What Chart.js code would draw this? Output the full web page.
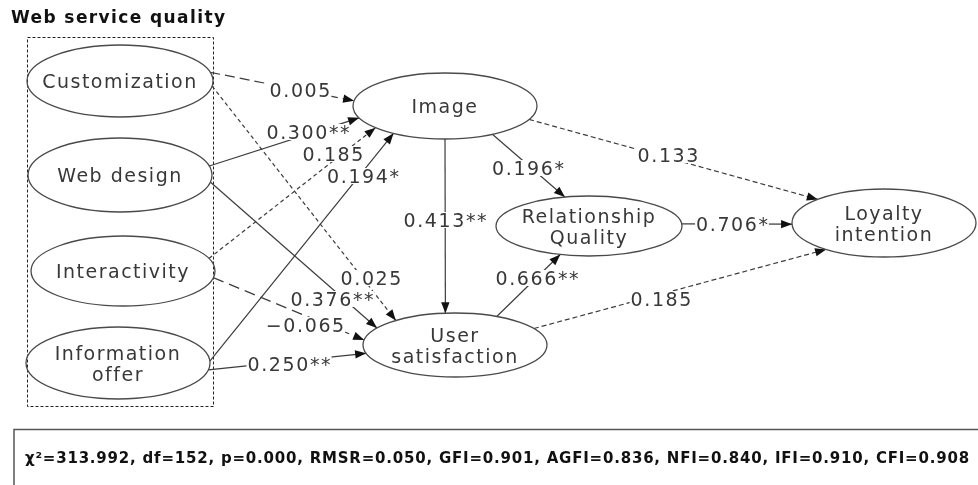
<!DOCTYPE html>
<html><head><meta charset="utf-8">
<script src="https://cdn.jsdelivr.net/npm/chart.js@4.4.1/dist/chart.umd.min.js"></script>
<style>html,body{margin:0;padding:0;background:#fff}#wrap{width:978px;height:485px;position:relative}</style>
</head><body><div id="wrap"><canvas id="c"></canvas></div>
<script>
// ---------- data ----------
const title = "Web service quality";
const nodeNames = ["Customization","Web design","Interactivity","Information offer","Image","Relationship Quality","Loyalty intention","User satisfaction"];
const nodeLines = [["Customization"],["Web design"],["Interactivity"],["Information","offer"],["Image"],["Relationship","Quality"],["Loyalty","intention"],["User","satisfaction"]];
const exogenous = [0,1,2,3];

// structural paths: from -> to, standardized coefficient, significance stars
const pathFrom  = [0,0,1,1,2,2,3,3,4,4,4,7,5,7];
const pathTo    = [4,7,4,7,4,7,4,7,7,5,6,5,6,6];
const pathCoef  = [0.005,0.025,0.300,0.376,0.185,-0.065,0.194,0.250,0.413,0.196,0.133,0.666,0.706,0.185];
const pathStars = ["","","**","**","","","*","**","**","*","","**","*",""];

// model fit indices
const fitNames    = ["χ²","df","p","RMSR","GFI","AGFI","NFI","IFI","CFI"];
const fitValues   = [313.992,152,0.000,0.050,0.901,0.836,0.840,0.910,0.908];
const fitDecimals = [3,0,3,3,3,3,3,3,3];

// ---------- layout (diagram coordinates) ----------
const nodeX  = [120,120,123,118,445,589,884,455];
const nodeY  = [81,175,271,363,106,226,223,345];
const nodeRX = [93,92,92,92,92,93,92,92];
const nodeRY = [36,37,35,36,33,30,34,32];
const startAngle = [-14,8,-14,11,-21,11,-3,11,90,59,24,-63,-4,-31];
const endAngle   = [189,230,159,212,139,189,124,165,-96,-105,-136,108,178,129];
const labelX = [300,371,308,332,333,305,363,289,445,528,668,537,732,661];
const labelY = [90,278,132,299,154,325,176,364,220,168,155,278,224,299];
const pathDash = [[10,5],[4,3],[],[],[4,3],[11,6],[],[],[],[],[5,3],[],[],[5,3]];

// ---------- drawing plugin ----------
const diagram = {
  id: 'diagram',
  afterDatasetsDraw(chart) {
    const ctx = chart.ctx, xs = chart.scales.x, ys = chart.scales.y;
    const X = v => xs.getPixelForValue(v), Y = v => ys.getPixelForValue(v);
    const node = i => ({cx: X(nodeX[i]), cy: Y(nodeY[i]),
      rx: Math.abs(X(nodeX[i] + nodeRX[i]) - X(nodeX[i])),
      ry: Math.abs(Y(nodeY[i] + nodeRY[i]) - Y(nodeY[i]))});
    const onEllipse = (i, deg) => { const n = node(i), t = deg * Math.PI / 180;
      return {x: n.cx + n.rx * Math.cos(t), y: n.cy + n.ry * Math.sin(t)}; };
    const lineCol = '#3c3c3c', textCol = '#383838';
    ctx.save();

    // title
    ctx.fillStyle = '#111';
    ctx.font = "bold 17px 'DejaVu Sans'";
    ctx.letterSpacing = '1.4px';
    ctx.textAlign = 'left'; ctx.textBaseline = 'alphabetic';
    ctx.fillText(title, 11, 23);

    // dashed group box around exogenous constructs
    let l = Infinity, r = -Infinity, t = Infinity, b = -Infinity;
    exogenous.forEach(i => { const n = node(i);
      l = Math.min(l, n.cx - n.rx); r = Math.max(r, n.cx + n.rx);
      t = Math.min(t, n.cy - n.ry); b = Math.max(b, n.cy + n.ry); });
    ctx.strokeStyle = '#222'; ctx.lineWidth = 1; ctx.setLineDash([3, 2]);
    ctx.strokeRect(Math.round(l + 1) + 0.5, Math.round(t - 8) + 0.5, Math.round(r - l - 3), Math.round(b - t + 15));
    ctx.setLineDash([]);

    // path lines
    const ends = pathFrom.map((f, k) => [onEllipse(f, startAngle[k]), onEllipse(pathTo[k], endAngle[k])]);
    ctx.strokeStyle = lineCol; ctx.lineWidth = 1.2;
    ends.forEach(([s, e], k) => {
      ctx.setLineDash(pathDash[k]);
      ctx.beginPath(); ctx.moveTo(s.x, s.y); ctx.lineTo(e.x, e.y); ctx.stroke();
    });
    ctx.setLineDash([]);

    // coefficient labels
    ctx.font = "19px 'DejaVu Sans'";
    ctx.letterSpacing = '1.6px';
    ctx.textAlign = 'center'; ctx.textBaseline = 'alphabetic';
    pathCoef.forEach((c, k) => {
      const txt = (c < 0 ? '\u2212' : '') + Math.abs(c).toFixed(3) + pathStars[k];
      const w = ctx.measureText(txt).width - 1.6;
      const lx = X(labelX[k]), ly = Y(labelY[k]);
      ctx.fillStyle = '#fff';
      ctx.fillRect(lx - w / 2 - 1, ly - 8, w + 2, 16);
      ctx.fillStyle = textCol;
      ctx.fillText(txt, lx + 0.8, ly + 7);
    });

    // arrowheads
    ctx.fillStyle = '#111';
    ends.forEach(([s, e]) => {
      const a = Math.atan2(e.y - s.y, e.x - s.x), L = 11, H = 4.2;
      ctx.beginPath();
      ctx.moveTo(e.x, e.y);
      ctx.lineTo(e.x - L * Math.cos(a) + H * Math.sin(a), e.y - L * Math.sin(a) - H * Math.cos(a));
      ctx.lineTo(e.x - L * Math.cos(a) - H * Math.sin(a), e.y - L * Math.sin(a) + H * Math.cos(a));
      ctx.closePath(); ctx.fill();
    });

    // construct ellipses and names
    nodeNames.forEach((nm, i) => {
      const n = node(i);
      ctx.strokeStyle = '#4a4a4a'; ctx.lineWidth = 1.3;
      ctx.beginPath(); ctx.ellipse(n.cx, n.cy, n.rx, n.ry, 0, 0, Math.PI * 2); ctx.stroke();
      ctx.fillStyle = textCol;
      ctx.font = "19px 'DejaVu Sans'";
      ctx.letterSpacing = '1.5px';
      const lines = nodeLines[i], lh = 21;
      lines.forEach((ln, j) => {
        const yy = n.cy + (j - (lines.length - 1) / 2) * lh + 7;
        ctx.fillText(ln, n.cx, yy);
      });
    });

    // fit index box
    ctx.strokeStyle = '#555'; ctx.lineWidth = 1.5;
    ctx.strokeRect(14, 429.5, 980, 80);
    const fitText = fitNames.map((nm, k) => nm + '=' + fitValues[k].toFixed(fitDecimals[k])).join(', ');
    ctx.font = "bold 15px 'DejaVu Sans'";
    ctx.letterSpacing = '0px';
    const w0 = ctx.measureText(fitText).width;
    const sp = (945 - w0) / fitText.length;
    ctx.letterSpacing = sp.toFixed(2) + 'px';
    ctx.fillStyle = '#111'; ctx.textAlign = 'left';
    ctx.fillText(fitText, 25, 463);
    ctx.restore();
  }
};

new Chart(document.getElementById('c'), {
  type: 'scatter',
  data: { datasets: [{ label: 'constructs', data: nodeX.map((x, i) => ({x, y: nodeY[i]})), pointRadius: 0, pointHoverRadius: 0 }] },
  options: {
    responsive: true, maintainAspectRatio: false, animation: false,
    layout: { padding: 0 },
    plugins: { legend: { display: false }, tooltip: { enabled: false } },
    scales: {
      x: { type: 'linear', min: 0, max: 978, display: false },
      y: { type: 'linear', min: 0, max: 485, reverse: true, display: false }
    }
  },
  plugins: [diagram]
});
</script>
</body></html>
